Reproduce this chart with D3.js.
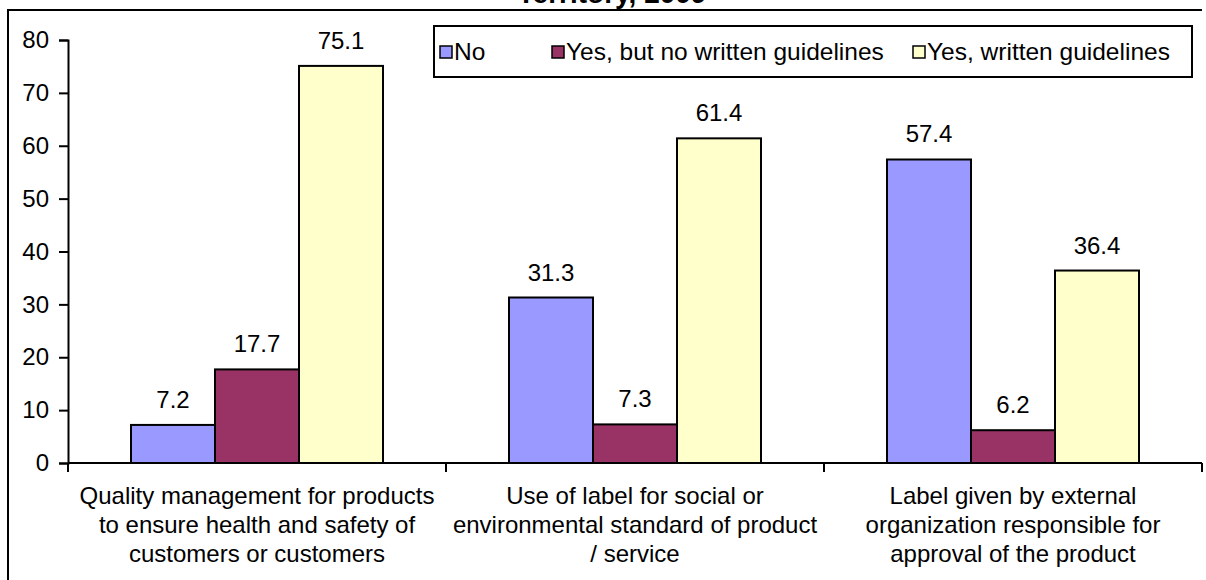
<!DOCTYPE html>
<html>
<head>
<meta charset="utf-8">
<script src="https://cdn.jsdelivr.net/npm/d3@7"></script>
<style>
  html, body { margin: 0; padding: 0; background: #fff; }
  svg { display: block; font-family: Arial, "Liberation Sans", sans-serif; }
</style>
</head>
<body>
<svg id="chart" width="1206" height="580"></svg>
<script>
// Categories (multi-line labels) and series values
const categories = [
  ["Quality management for products", "to ensure health and safety of", "customers or customers"],
  ["Use of label for social or", "environmental standard of product", "/ service"],
  ["Label given by external", "organization responsible for", "approval of the product"]
];
const seriesNames = ["No", "Yes, but no written guidelines", "Yes, written guidelines"];
const seriesColors = ["#9999FF", "#993366", "#FFFFCC"];
const valuesNo = [7.2, 31.3, 57.4];
const valuesYesNoWritten = [17.7, 7.3, 6.2];
const valuesYesWritten = [75.1, 61.4, 36.4];
const yTicks = [0, 10, 20, 30, 40, 50, 60, 70, 80];
const titleText = "Territory, 2009";

const seriesValues = [valuesNo, valuesYesNoWritten, valuesYesWritten];
const catKeys = categories.map((c, i) => i);

const svg = d3.select("#chart");
const W = 1206, H = 580;
const plot = { left: 68, right: 1202, top: 40, bottom: 463 };

svg.append("rect").attr("width", W).attr("height", H).attr("fill", "#fff");

// chart frame (left and top edges)
svg.append("path")
  .attr("d", `M8,${H} V10 H1202`)
  .attr("fill", "none").attr("stroke", "#000").attr("stroke-width", 2);

// title (last line, sitting above the frame)
svg.append("text")
  .attr("x", 612).attr("y", 3)
  .attr("text-anchor", "middle")
  .attr("font-weight", "bold").attr("font-size", 28)
  .text(titleText);

const x = d3.scaleBand().domain(catKeys).range([plot.left, plot.right]).paddingInner(0).paddingOuter(0);
const xs = d3.scaleBand().domain(d3.range(seriesNames.length)).range([0, x.bandwidth()]).paddingInner(0).paddingOuter(0.75);
const y = d3.scaleLinear().domain([0, 80]).range([plot.bottom, plot.top]);

// bars
const groups = svg.append("g").selectAll("g")
  .data(catKeys).join("g")
  .attr("transform", d => `translate(${x(d)},0)`);

groups.selectAll("rect")
  .data(ci => seriesValues.map((vals, si) => ({ si, v: vals[ci] })))
  .join("rect")
  .attr("x", d => xs(d.si))
  .attr("y", d => y(d.v))
  .attr("width", xs.bandwidth())
  .attr("height", d => y(0) - y(d.v))
  .attr("fill", d => seriesColors[d.si])
  .attr("stroke", "#000").attr("stroke-width", 2);

groups.selectAll("text.val")
  .data(ci => seriesValues.map((vals, si) => ({ si, v: vals[ci] })))
  .join("text").attr("class", "val")
  .attr("x", d => xs(d.si) + xs.bandwidth() / 2)
  .attr("y", d => y(d.v) - 17)
  .attr("text-anchor", "middle").attr("font-size", 24)
  .text(d => d.v.toFixed(1));

// y axis
const yAxis = svg.append("g")
  .attr("transform", `translate(${plot.left},0)`)
  .call(d3.axisLeft(y).tickValues(yTicks).tickSize(9).tickPadding(10).tickFormat(d3.format("d")));
yAxis.select(".domain").attr("stroke", "#000").attr("stroke-width", 2);
yAxis.selectAll(".tick line").attr("stroke", "#000").attr("stroke-width", 2);
yAxis.selectAll(".tick text").attr("font-size", 24).attr("font-family", "Arial, 'Liberation Sans', sans-serif").attr("fill", "#000");

// x axis: baseline and category boundary ticks
const boundaries = catKeys.map(k => x(k)).concat([x(catKeys[catKeys.length - 1]) + x.bandwidth()]);
svg.append("line")
  .attr("x1", plot.left).attr("x2", plot.right)
  .attr("y1", y(0)).attr("y2", y(0))
  .attr("stroke", "#000").attr("stroke-width", 2);
svg.append("g").selectAll("line")
  .data(boundaries).join("line")
  .attr("x1", d => d).attr("x2", d => d)
  .attr("y1", y(0)).attr("y2", y(0) + 9)
  .attr("stroke", "#000").attr("stroke-width", 2);

// category labels
const catLabels = svg.append("g").selectAll("text")
  .data(catKeys).join("text")
  .attr("text-anchor", "middle").attr("font-size", 24)
  .attr("x", d => x(d) + x.bandwidth() / 2)
  .attr("y", 504);
catLabels.selectAll("tspan")
  .data(d => categories[d].map(line => ({ line, cx: x(d) + x.bandwidth() / 2 })))
  .join("tspan")
  .attr("x", d => d.cx)
  .attr("dy", (d, i) => i === 0 ? 0 : 29)
  .text(d => d.line);

// legend
const legend = svg.append("g");
legend.append("rect")
  .attr("x", 434).attr("y", 26).attr("width", 758).attr("height", 51)
  .attr("fill", "#fff").attr("stroke", "#000").attr("stroke-width", 2);
const legendX = [440, 552, 913];
const items = legend.selectAll("g.item")
  .data(seriesNames).join("g").attr("class", "item")
  .attr("transform", (d, i) => `translate(${legendX[i]},0)`);
items.append("rect")
  .attr("x", 0).attr("y", 46).attr("width", 12).attr("height", 12)
  .attr("fill", (d, i) => seriesColors[i])
  .attr("stroke", "#000").attr("stroke-width", 1.5);
items.append("text")
  .attr("x", 14).attr("y", 60).attr("font-size", 24.5)
  .text(d => d);
</script>
</body>
</html>
